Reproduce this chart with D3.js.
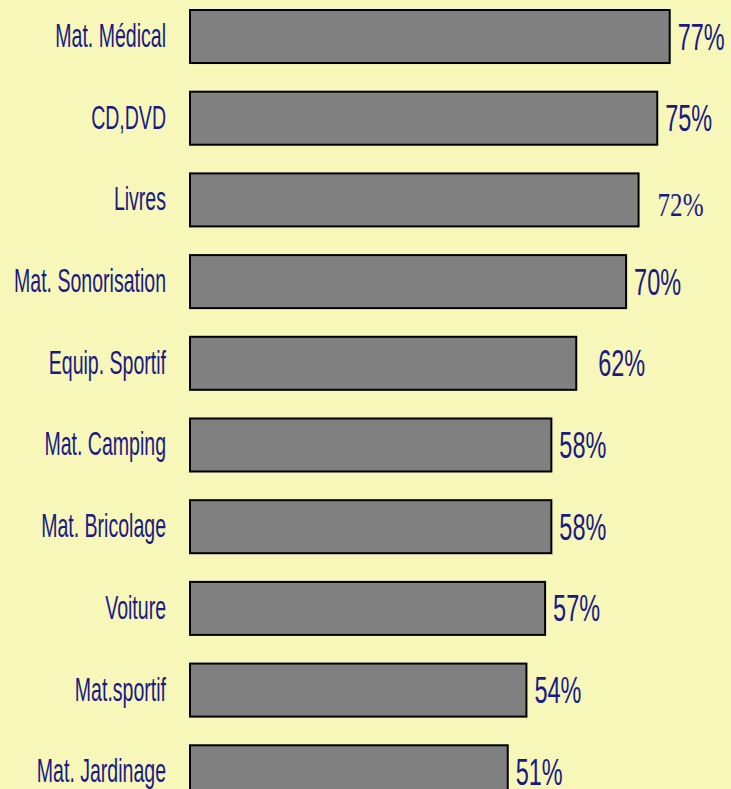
<!DOCTYPE html>
<html>
<head>
<meta charset="utf-8">
<script src="https://cdn.jsdelivr.net/npm/d3@7"></script>
<style>
  html, body { margin: 0; padding: 0; background: #f6f7b9; }
  svg { display: block; }
</style>
</head>
<body>
<div id="chart"></div>
<script>
const categories = [
  "Mat. Médical", "CD,DVD", "Livres", "Mat. Sonorisation", "Equip. Sportif",
  "Mat. Camping", "Mat. Bricolage", "Voiture", "Mat.sportif", "Mat. Jardinage",
];
const values = [77, 75, 72, 70, 62, 58, 58, 57, 54, 51];

// a couple of labels in the original sit a bit off the bar end
const labelNudge = { 2: { dx: 11, dy: 5, serif: true }, 4: { dx: 14, dy: 0 } };

const width = 731;
const height = 789;
const navy = "#1a1a85";
const narrow = "'Liberation Sans', Arial, sans-serif";
const serif = "'Liberation Serif', serif";

const svg = d3.select("#chart").append("svg")
  .attr("width", width)
  .attr("height", height);

svg.append("rect").attr("width", width).attr("height", height).attr("fill", "#f6f7b9");

const x = d3.scaleLinear().domain([0, 100]).range([190, 813]);
const y = d3.scaleBand().domain(categories).range([10, 798.3]).paddingInner(0.351).paddingOuter(0);

const data = categories.map((c, i) => ({ cat: c, val: values[i], i }));

svg.selectAll("rect.bar")
  .data(data)
  .join("rect")
  .attr("class", "bar")
  .attr("x", x(0))
  .attr("y", (d) => y(d.cat))
  .attr("width", (d) => x(d.val) - x(0))
  .attr("height", y.bandwidth())
  .attr("fill", "#808080")
  .attr("stroke", "#000")
  .attr("stroke-width", 2);

// horizontal squeeze so the glyphs look condensed like the source
function squeeze(font, size, str, target) {
  const p = svg.append("text").attr("font-family", font).attr("font-size", size).text(str);
  const s = target / p.node().getComputedTextLength();
  p.remove();
  return s;
}
const sx = squeeze(narrow, 33, categories[3], 152);
const sx2 = squeeze(narrow, 37, "77%", 47);
const sx3 = squeeze(serif, 33, "72%", 46);

svg.selectAll("text.cat")
  .data(data)
  .join("text")
  .attr("class", "cat")
  .attr("transform", (d) => `translate(166,${y(d.cat) + y.bandwidth() / 2 + 10.5}) scale(${sx},1)`)
  .attr("text-anchor", "end")
  .attr("font-family", narrow)
  .attr("font-size", 33)
  .attr("fill", navy)
  .text((d) => d.cat);

svg.selectAll("text.val")
  .data(data)
  .join("text")
  .attr("class", "val")
  .attr("transform", (d) => {
    const n = labelNudge[d.i] || { dx: 0, dy: 0 };
    const s = n.serif ? sx3 : sx2;
    const yy = y(d.cat) + y.bandwidth() / 2 + (n.serif ? 11 : 13) + n.dy;
    return `translate(${x(d.val) + 8 + n.dx},${yy}) scale(${s},1)`;
  })
  .attr("font-family", (d) => (labelNudge[d.i] && labelNudge[d.i].serif ? serif : narrow))
  .attr("font-size", (d) => (labelNudge[d.i] && labelNudge[d.i].serif ? 33 : 37))
  .attr("fill", navy)
  .text((d) => d.val + "%");
</script>
</body>
</html>
